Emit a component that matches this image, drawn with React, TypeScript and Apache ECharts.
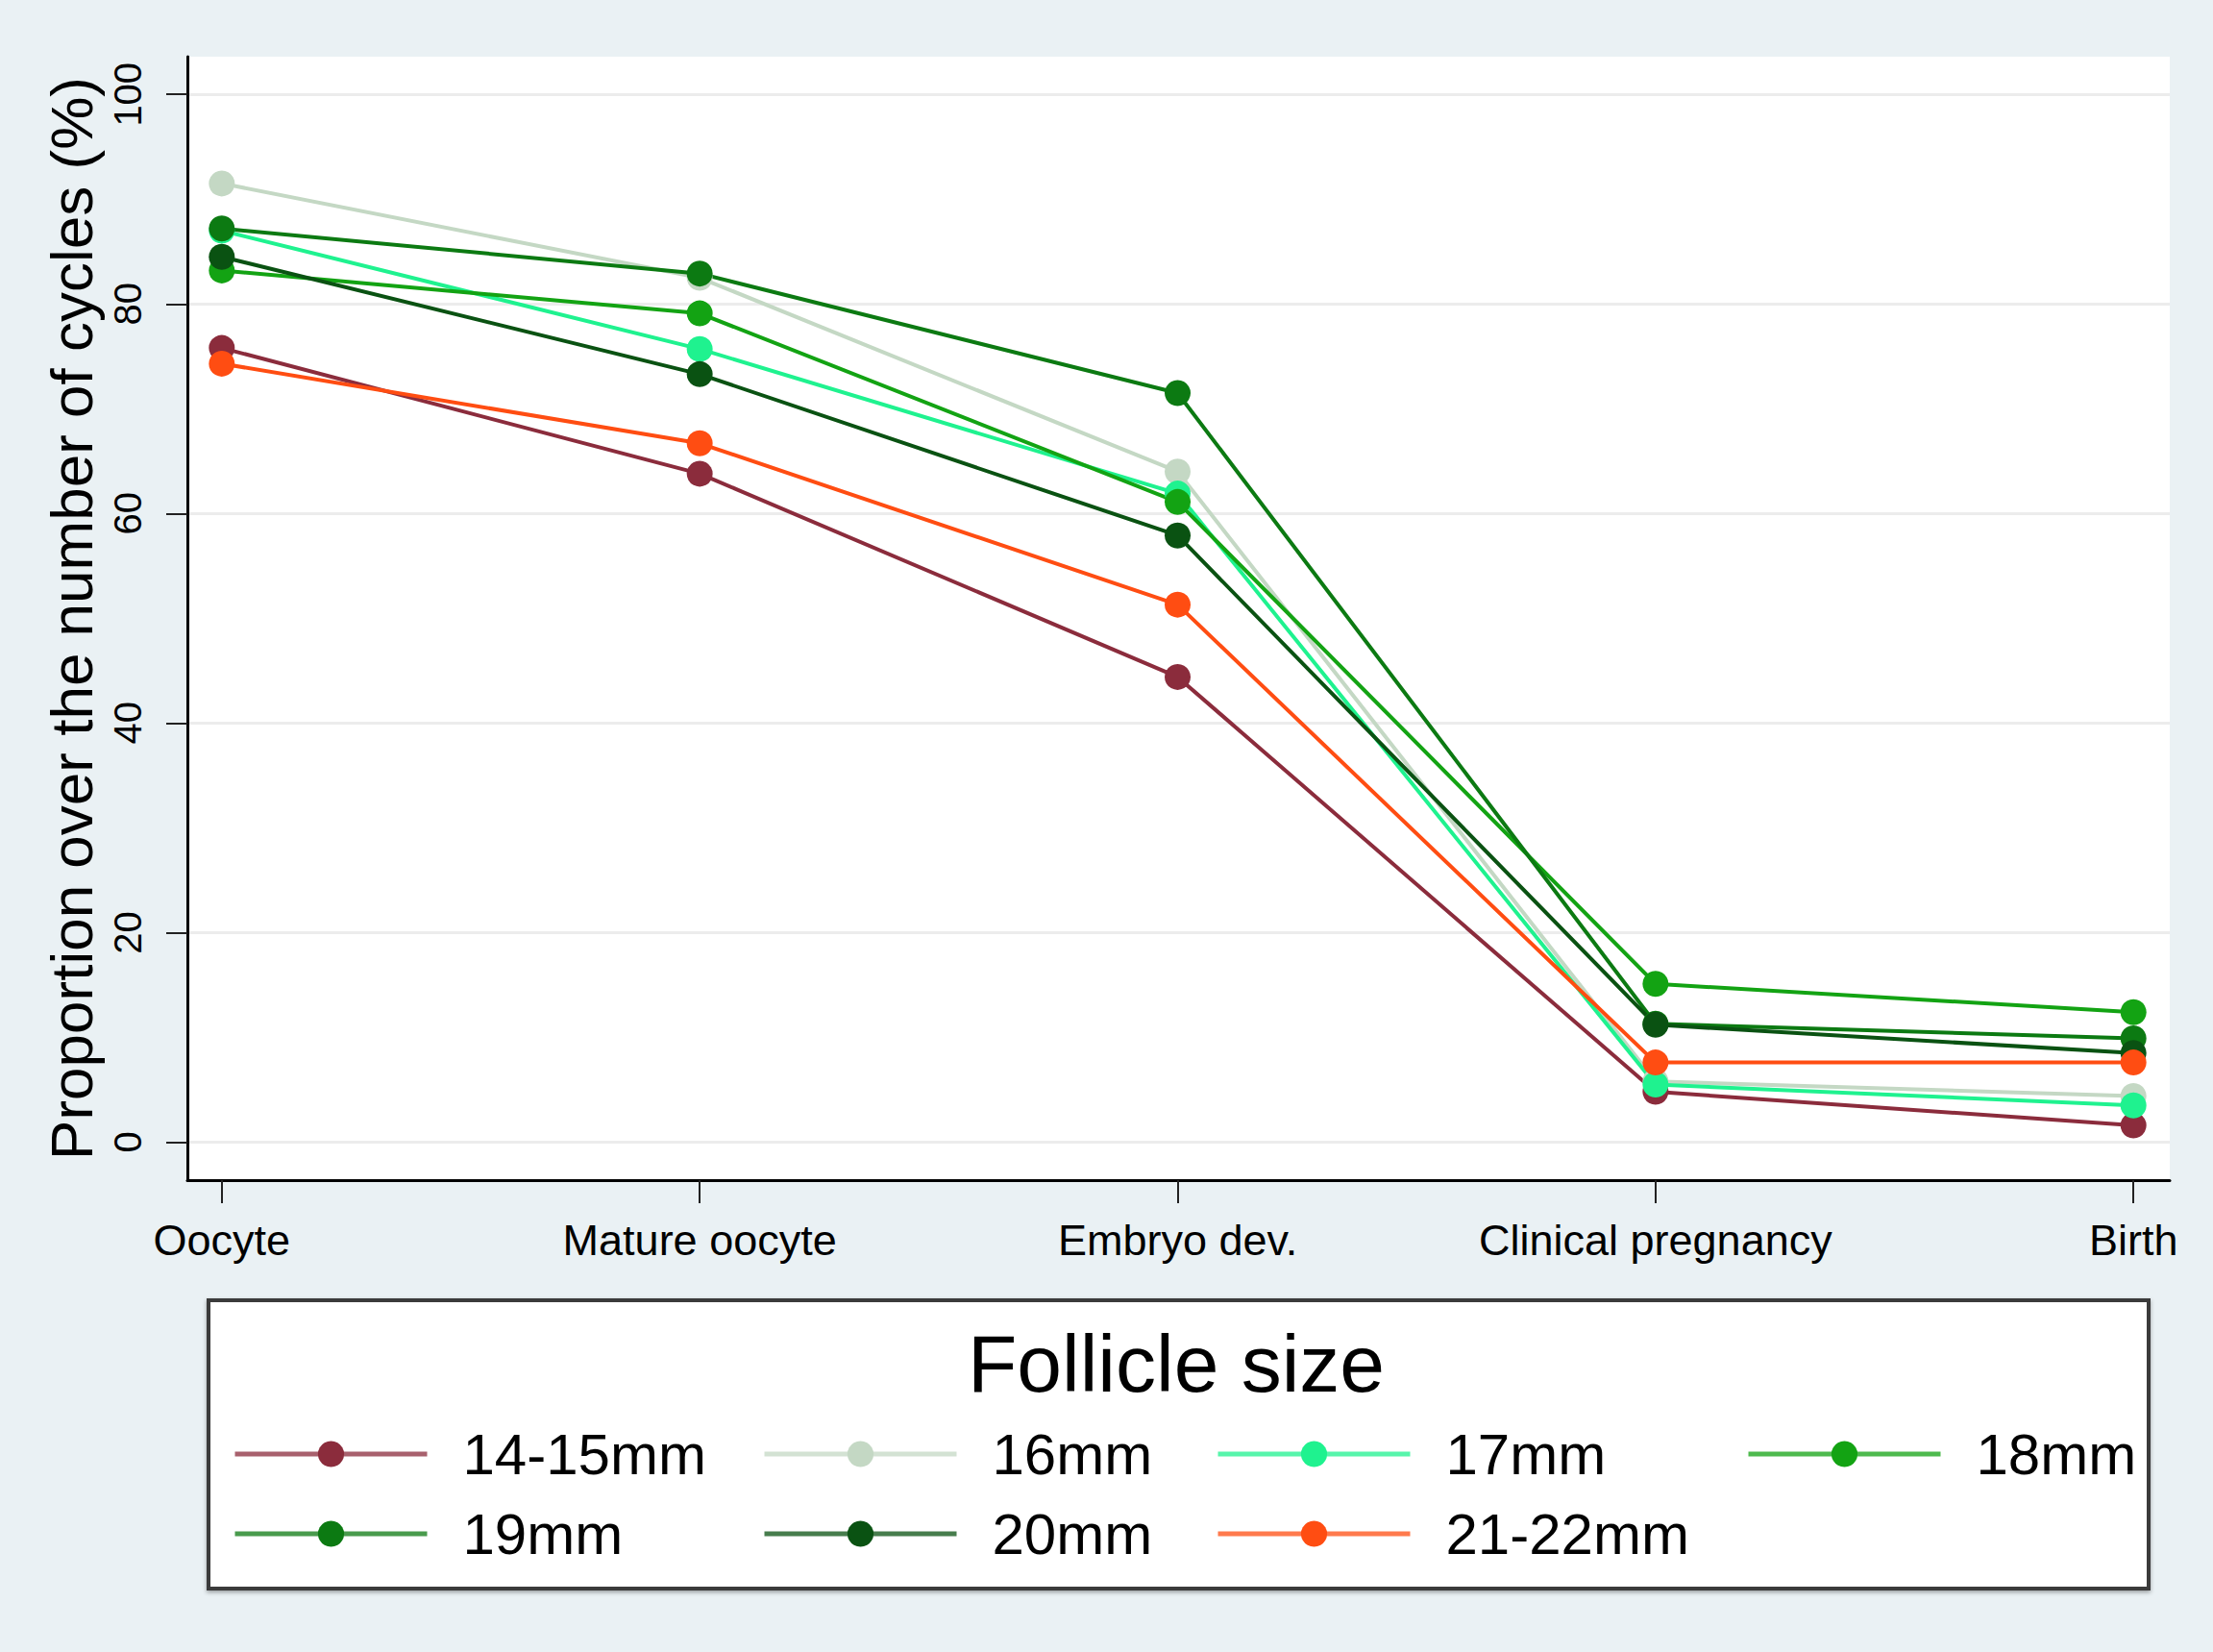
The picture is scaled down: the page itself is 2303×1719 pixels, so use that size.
import React, { useEffect, useRef } from "react";
import * as echarts from "echarts";

const categories = ["Oocyte", "Mature oocyte", "Embryo dev.", "Clinical pregnancy", "Birth"];
const seriesNames = ["14-15mm", "16mm", "17mm", "18mm", "19mm", "20mm", "21-22mm"];

const size1415 = [75.8, 63.8, 44.4, 4.8, 1.6];
const size16 = [91.5, 82.5, 64.0, 5.8, 4.4];
const size17 = [87.0, 75.7, 61.9, 5.5, 3.5];
const size18 = [83.2, 79.1, 61.1, 15.1, 12.4];
const size19 = [87.2, 82.9, 71.5, 11.3, 9.9];
const size20 = [84.5, 73.3, 57.9, 11.2, 8.5];
const size2122 = [74.3, 66.7, 51.3, 7.6, 7.6];

const yTicks = [0, 20, 40, 60, 80, 100];
const xTicks = [0, 1, 2, 3, 4];

const allValues = [size1415, size16, size17, size18, size19, size20, size2122];

const colors = ["#8b2c3c", "#c4d8c4", "#1ff28f", "#13a313", "#0c7a12", "#0a5212", "#ff4d12"];

const FONT = "'Liberation Sans', Arial, Helvetica, sans-serif";

// legend layout (icon left x, row center y)
const legendPos = [
  [242, 1514], [793, 1514], [1265, 1514], [1817, 1514],
  [242, 1597], [793, 1597], [1265, 1597],
];

export default function App() {
  const ref = useRef<HTMLDivElement>(null);

  useEffect(() => {
    if (!ref.current) return;
    const chart = echarts.init(ref.current, null, { renderer: "svg" });

    const series = seriesNames.map((name, k) => ({
      name,
      type: "line",
      data: allValues[k].map((v, i) => [i, v]),
      symbol: "circle",
      symbolSize: 27,
      lineStyle: { color: colors[k], width: 4 },
      itemStyle: { color: colors[k] },
      emphasis: { disabled: true },
    }));

    const legends = seriesNames.map((name, k) => ({
      data: [name],
      left: legendPos[k][0],
      top: legendPos[k][1] - 31,
      padding: 0,
      itemGap: 0,
      itemWidth: 200,
      itemHeight: 34,
      selectedMode: false,
      lineStyle: { width: 5, opacity: 0.75 },
      textStyle: {
        fontSize: 60,
        color: "#000",
        fontFamily: FONT,
        padding: [0, 0, 0, 32],
      },
    }));

    chart.setOption({
      animation: false,
      backgroundColor: "#eaf1f4",
      textStyle: { fontFamily: FONT },
      grid: {
        left: 195,
        right: 45,
        top: 59,
        bottom: 491,
        show: true,
        backgroundColor: "#ffffff",
        borderWidth: 0,
        containLabel: false,
      },
      xAxis: {
        type: "value",
        min: -0.072,
        max: 4.076,
        axisLine: { show: true, onZero: false, lineStyle: { color: "#000", width: 3 } },
        axisTick: { show: true, length: 24, customValues: xTicks, lineStyle: { color: "#222", width: 2 } },
        axisLabel: {
          customValues: xTicks,
          formatter: (v: number) => categories[Math.round(v)] ?? "",
          fontSize: 45,
          color: "#000",
          margin: 40,
          fontFamily: FONT,
        },
        splitLine: { show: false },
      },
      yAxis: {
        type: "value",
        min: -3.63,
        max: 103.6,
        name: "Proportion over the number of cycles (%)",
        nameLocation: "middle",
        nameGap: 84,
        nameTextStyle: { fontSize: 62, color: "#000", fontFamily: FONT },
        axisLine: { show: true, onZero: false, lineStyle: { color: "#000", width: 3 } },
        axisTick: { show: true, length: 22, customValues: yTicks, lineStyle: { color: "#222", width: 2 } },
        axisLabel: {
          customValues: yTicks,
          rotate: 90,
          fontSize: 40,
          color: "#000",
          margin: 42,
          fontFamily: FONT,
        },
        splitLine: { show: true, lineStyle: { color: "#ececec", width: 3 } },
      },
      legend: legends,
      graphic: [
        {
          type: "rect",
          z: 0,
          shape: { x: 217, y: 1353, width: 2019, height: 300 },
          style: {
            fill: "#ffffff",
            stroke: "#3a3a3a",
            lineWidth: 4,
            shadowBlur: 4,
            shadowColor: "rgba(0,0,0,0.35)",
            shadowOffsetY: 2,
          },
        },
        {
          type: "text",
          z: 1,
          x: 1224,
          y: 1419,
          style: {
            text: "Follicle size",
            fontSize: 84,
            fontFamily: FONT,
            fill: "#000",
            align: "center",
            verticalAlign: "middle",
          },
        },
      ],
      series,
    });

    return () => chart.dispose();
  }, []);

  return (
    <div
      ref={ref}
      style={{ position: "absolute", left: 0, top: 0, width: 2303, height: 1719 }}
    />
  );
}
